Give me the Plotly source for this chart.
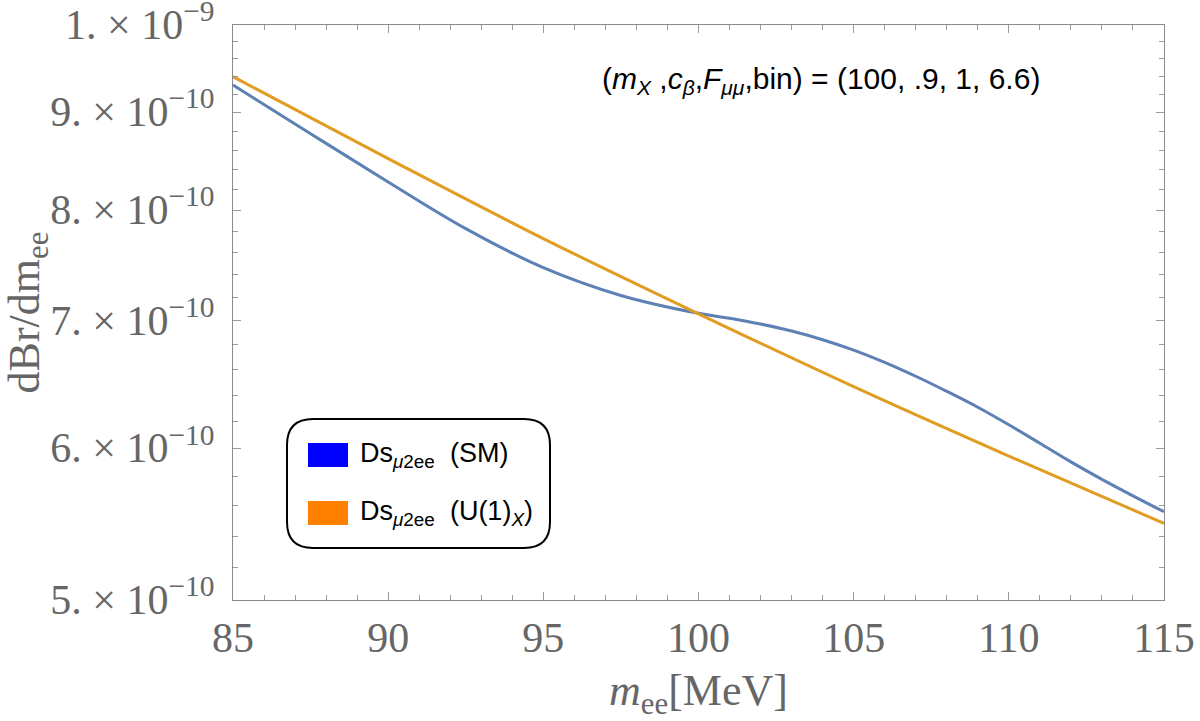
import plotly.graph_objects as go

# ---- data ----
m_sm = [85, 87.5, 90, 92.5, 95, 97.5, 100, 101, 102, 103, 104, 105, 106, 107, 108,
        109, 110, 111, 112, 113, 114, 115]
br_sm = [9.302e-10, 8.772e-10, 8.276e-10, 7.823e-10, 7.464e-10, 7.218e-10, 7.064e-10,
         7.022e-10, 6.973e-10, 6.915e-10, 6.843e-10, 6.758e-10, 6.659e-10, 6.548e-10,
         6.430e-10, 6.308e-10, 6.176e-10, 6.040e-10, 5.906e-10, 5.783e-10, 5.669e-10,
         5.561e-10]
m_u1 = [85, 90, 95, 100, 105, 110, 115]
br_u1 = [9.396e-10, 8.513e-10, 7.730e-10, 7.060e-10, 6.466e-10, 5.947e-10, 5.484e-10]

x_ticks = [85, 90, 95, 100, 105, 110, 115]
x_minor = [v for v in range(86, 115) if v % 5]
y_ticks = [5e-10, 6e-10, 7e-10, 8e-10, 9e-10, 1e-9]
y_tick_labels = ["5. × 10<sup>−10</sup>", "6. × 10<sup>−10</sup>", "7. × 10<sup>−10</sup>",
                 "8. × 10<sup>−10</sup>", "9. × 10<sup>−10</sup>", "1. × 10<sup>−9</sup>"]
y_minor = [k * 1e-11 for k in range(52, 100, 2) if k % 10]

legend_labels = ["Ds<sub><i>μ</i>2ee</sub>  (SM)", "Ds<sub><i>μ</i>2ee</sub>  (U(1)<sub><i>X</i></sub>)"]
legend_colors = ["#0000FF", "#FF8000"]
line_colors = ["#5E81B5", "#E19C24"]

# ---- layout geometry (pixels) ----
W, H = 1200, 721
L, R, T, B = 233, 36, 25, 121
PW, PH = W - L - R, H - T - B


def px(x):
    return (x - L) / PW


def py(y):
    return (H - B - y) / PH


serif = "Liberation Serif"
sans = "Liberation Sans"
gray = "#666666"

fig = go.Figure()
fig.add_trace(go.Scatter(x=m_sm, y=br_sm, mode="lines", name="SM",
                         line=dict(color=line_colors[0], width=3, shape="spline", smoothing=1)))
fig.add_trace(go.Scatter(x=m_u1, y=br_u1, mode="lines", name="U(1)X",
                         line=dict(color=line_colors[1], width=3, shape="spline", smoothing=1)))

axis_common = dict(showline=True, linecolor="#8a8a8a", linewidth=1.2, mirror="allticks",
                   ticks="inside", tickcolor="#9a9a9a", tickwidth=1, ticklen=8,
                   showgrid=False, zeroline=False, ticklabeloverflow="allow",
                   tickfont=dict(family=serif, size=42, color=gray))

fig.update_xaxes(range=[85, 115], tickmode="array", tickvals=x_ticks,
                 ticklabelstandoff=0,
                 minor=dict(tickmode="array", tickvals=x_minor, ticks="inside",
                            ticklen=4.5, tickcolor="#9a9a9a", showgrid=False),
                 title=dict(text="<i>m</i><sub>ee</sub>[MeV]",
                            font=dict(family=serif, size=44, color=gray), standoff=18),
                 **axis_common)
fig.update_yaxes(type="log", range=[-9.301035, -8.999995], tickmode="array",
                 tickvals=y_ticks, ticktext=y_tick_labels, ticklabelstandoff=9,
                 ticklabelshift=-1,
                 minor=dict(tickmode="array", tickvals=y_minor, ticks="inside",
                            ticklen=4.5, tickcolor="#9a9a9a", showgrid=False),
                 title=dict(text="dBr/dm<sub>ee</sub>",
                            font=dict(family=serif, size=44, color=gray), standoff=8),
                 **axis_common)

# legend box (rounded)
x0, x1, y0, y1, r = 287, 550, 419, 548, 26
pts = lambda a, b: f"{px(a)},{py(b)}"
path = (f"M {pts(x0 + r, y0)} L {pts(x1 - r, y0)} Q {pts(x1, y0)} {pts(x1, y0 + r)} "
        f"L {pts(x1, y1 - r)} Q {pts(x1, y1)} {pts(x1 - r, y1)} "
        f"L {pts(x0 + r, y1)} Q {pts(x0, y1)} {pts(x0, y1 - r)} "
        f"L {pts(x0, y0 + r)} Q {pts(x0, y0)} {pts(x0 + r, y0)} Z")
shapes = [dict(type="path", xref="paper", yref="paper", path=path,
               line=dict(color="black", width=2), fillcolor="white", layer="above")]
annotations = []
for i, (lab, col) in enumerate(zip(legend_labels, legend_colors)):
    yc = 455 + i * 58
    shapes.append(dict(type="rect", xref="paper", yref="paper",
                       x0=px(308), x1=px(348), y0=py(yc - 12), y1=py(yc + 12),
                       fillcolor=col, line=dict(width=0), layer="above"))
    annotations.append(dict(xref="paper", yref="paper", x=px(358), y=py(yc),
                            xanchor="left", yanchor="middle", showarrow=False,
                            text=lab, font=dict(family=sans, size=27, color="black")))

annotations.append(dict(xref="paper", yref="paper", x=px(821), y=py(80),
                        xanchor="center", yanchor="middle", showarrow=False,
                        text="(<i>m<sub>X</sub></i> ,<i>c<sub>β</sub></i>,<i>F<sub>μμ</sub></i>,bin) = (100, .9, 1, 6.6)",
                        font=dict(family=sans, size=30, color="black")))

fig.update_layout(width=W, height=H, margin=dict(l=L, r=R, t=T, b=B, autoexpand=False),
                  plot_bgcolor="white", paper_bgcolor="white", showlegend=False,
                  shapes=shapes, annotations=annotations)

fig.write_html("out.html")
